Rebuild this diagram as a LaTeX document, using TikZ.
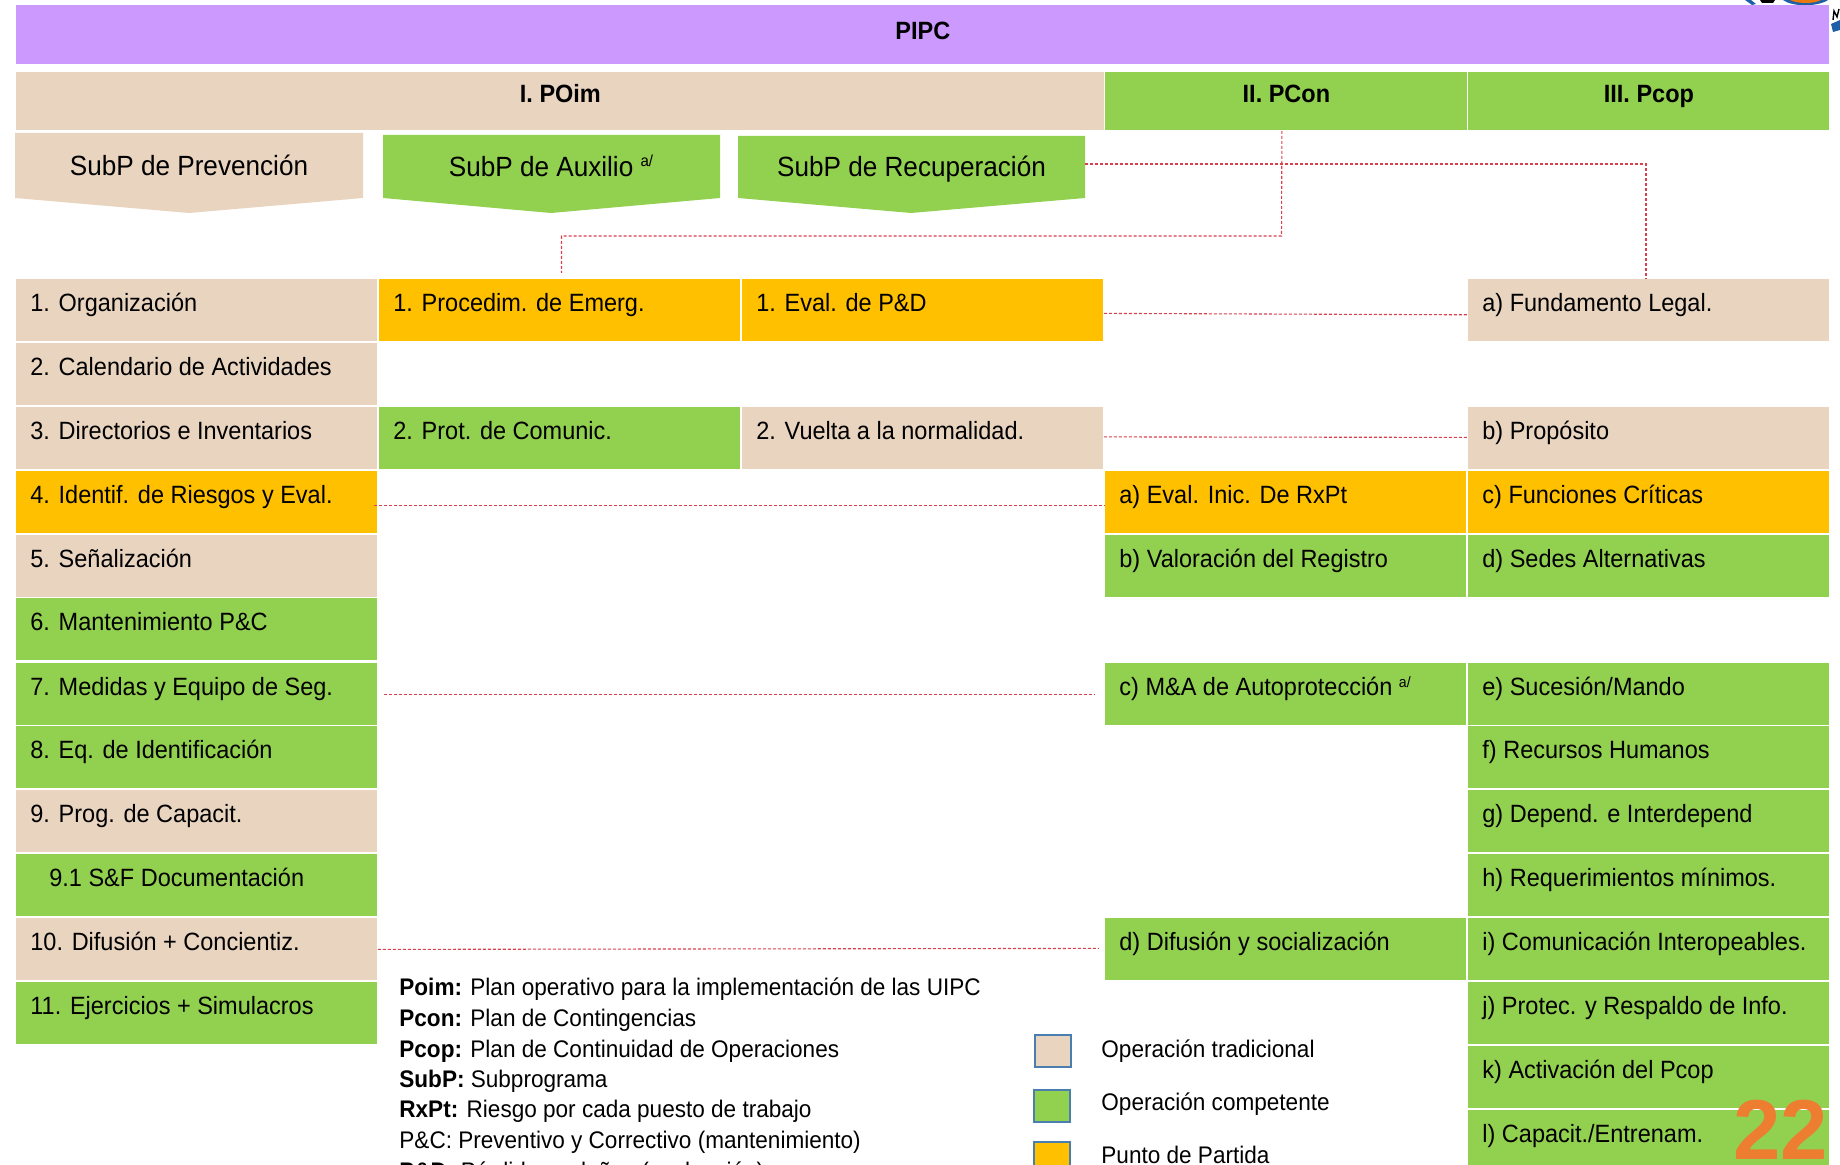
\documentclass[tikz,border=0pt]{standalone}
\usepackage{fontspec}
\setmainfont{Liberation Sans}[FakeStretch=0.94]
\newfontfamily\numfont{Liberation Sans}
\definecolor{tanc}{HTML}{E9D4C0}
\definecolor{greenc}{HTML}{92D050}
\definecolor{yellowc}{HTML}{FFC000}
\definecolor{purplec}{HTML}{CC99FF}
\definecolor{redc}{HTML}{D8404E}
\definecolor{bluec}{HTML}{4A7EAF}
\definecolor{orangec}{HTML}{ED7D31}
\definecolor{logoo}{HTML}{E87A10}
\definecolor{logob}{HTML}{1F5FA8}
\tikzset{
 cell/.style={anchor=north west,inner xsep=7pt,inner ysep=0pt,text height=16.2pt,text depth=14.8pt,font=\fontsize{12.5}{14}\selectfont,
   execute at begin node={\hbox to 166.5pt\bgroup},execute at end node={\hfil\egroup}},
 head/.style={anchor=north west,inner xsep=0pt,inner ysep=0pt,text height=15pt,text depth=14pt,align=center,font=\fontsize{12.5}{15}\selectfont\bfseries},
 pent/.style={inner sep=0pt,font=\fontsize{13.9}{16}\selectfont,text height=10pt,text depth=3pt},
 link/.style={draw=redc,line width=0.55pt,dash pattern=on 1.5pt off 1pt},
 note/.style={anchor=base west,inner sep=0pt,font=\fontsize{12}{13}\selectfont},
 swatch/.style={anchor=north west,draw=bluec,line width=1pt,inner sep=0pt,minimum width=18pt,minimum height=16pt},
}
\begin{document}
\begin{tikzpicture}[x=0.5pt,y=-0.5pt]
\clip (0,0) rectangle (1840,1165);
\fill[white] (0,0) rectangle (1840,1165);
% logo fragment
\fill[logob] (1745,0) -- (1751,0) -- (1756,4) -- (1752,5) -- cycle;
\fill[black] (1760,0) -- (1775,0) -- (1773,3) -- (1762,3) -- cycle;
\fill[logob] (1783,0) .. controls (1792,7) and (1818,7) .. (1828,0) -- cycle;
\fill[logoo] (1790,0) .. controls (1798,4) and (1814,4) .. (1821,0) -- cycle;
\fill[logob] (1831,24) -- (1840,20) -- (1840,30) -- (1833,32) -- cycle;
\draw[black,line width=0.7pt] (1833,20) -- (1834,11) -- (1837,17) -- (1839,9);
% headers
\node[head,fill=purplec,minimum width=906.5pt,text height=17pt,text depth=12.5pt] (pipc) at (16,5) {PIPC};
\node[head,fill=tanc,minimum width=544pt] (poim) at (16,72) {I. POim};
\node[head,fill=greenc,minimum width=181pt] (pcon) at (1105,72) {II. PCon};
\node[head,fill=greenc,minimum width=180.5pt] (pcop) at (1468,72) {III. Pcop};
% subprogram pentagons
\fill[tanc] (15,133) -- (363,133) -- (363,198) -- (189,213) -- (15,198) -- cycle;
\node[pent,minimum width=174pt] (prev) at (189,169) {SubP de Prevención};
\fill[greenc] (383,135) -- (720,135) -- (720,198) -- (551,213) -- (383,198) -- cycle;
\node[pent,minimum width=168.5pt] (aux) at (551,170) {SubP de Auxilio \raisebox{5pt}{\fontsize{8}{9}\selectfont a/}};
\fill[greenc] (738,136) -- (1085,136) -- (1085,198) -- (911,213) -- (738,198) -- cycle;
\node[pent,minimum width=173.5pt] (rec) at (911.5,170) {SubP de Recuperación};
% column 1
\node[cell,fill=tanc] (a1) at (16,279) {1. Organización};
\node[cell,fill=tanc] (a2) at (16,343) {2. Calendario de Actividades};
\node[cell,fill=tanc] (a3) at (16,407) {3. Directorios e Inventarios};
\node[cell,fill=yellowc] (a4) at (16,471) {4. Identif. de Riesgos y Eval.};
\node[cell,fill=tanc] (a5) at (16,535) {5. Señalización};
\node[cell,fill=greenc] (a6) at (16,598) {6. Mantenimiento P\&C};
\node[cell,fill=greenc] (a7) at (16,663) {7. Medidas y Equipo de Seg.};
\node[cell,fill=greenc] (a8) at (16,726) {8. Eq. de Identificación};
\node[cell,fill=tanc] (a9) at (16,790) {9. Prog. de Capacit.};
\node[cell,fill=greenc] (a91) at (16,854) {\hspace*{9.5pt}9.1 S\&F Documentación};
\node[cell,fill=tanc] (a10) at (16,918) {10. Difusión + Concientiz.};
\node[cell,fill=greenc] (a11) at (16,982) {11. Ejercicios + Simulacros};
% column 2
\node[cell,fill=yellowc] (b1) at (379,279) {1. Procedim. de Emerg.};
\node[cell,fill=greenc] (b2) at (379,407) {2. Prot. de Comunic.};
% column 3
\node[cell,fill=yellowc] (c1) at (742,279) {1. Eval. de P\&D};
\node[cell,fill=tanc] (c2) at (742,407) {2. Vuelta a la normalidad.};
% column 4
\node[cell,fill=yellowc] (d1) at (1105,471) {a) Eval. Inic. De RxPt};
\node[cell,fill=greenc] (d2) at (1105,535) {b) Valoración del Registro};
\node[cell,fill=greenc] (d3) at (1105,663) {c) M\&A de Autoprotección \raisebox{4pt}{\fontsize{7.5}{9}\selectfont a/}};
\node[cell,fill=greenc] (d4) at (1105,918) {d) Difusión y socialización};
% column 5
\node[cell,fill=tanc] (e1) at (1468,279) {a) Fundamento Legal.};
\node[cell,fill=tanc] (e2) at (1468,407) {b) Propósito};
\node[cell,fill=yellowc] (e3) at (1468,471) {c) Funciones Críticas};
\node[cell,fill=greenc] (e4) at (1468,535) {d) Sedes Alternativas};
\node[cell,fill=greenc] (e5) at (1468,663) {e) Sucesión/Mando};
\node[cell,fill=greenc] (e6) at (1468,726) {f) Recursos Humanos};
\node[cell,fill=greenc] (e7) at (1468,790) {g) Depend. e Interdepend};
\node[cell,fill=greenc] (e8) at (1468,854) {h) Requerimientos mínimos.};
\node[cell,fill=greenc] (e9) at (1468,918) {i) Comunicación Interopeables.};
\node[cell,fill=greenc] (e10) at (1468,982) {j) Protec. y Respaldo de Info.};
\node[cell,fill=greenc] (e11) at (1468,1046) {k) Activación del Pcop};
\node[cell,fill=greenc] (e12) at (1468,1110) {l) Capacit./Entrenam.};
% connectors
\coordinate (bendA) at (1281.5,236);
\coordinate (bendB) at (561.5,236);
\coordinate (bendC) at (1646,164);
\draw[link] ([xshift=-2.25pt]pcon.south) -- (bendA) -- (bendB) -- ([yshift=3pt]bendB |- b1.north);
\draw[link] (rec.east |- bendC) -- (bendC) -- (bendC |- e1.north);
\draw[link] ([yshift=-1.5pt]c1.east) -- ([yshift=-2.2pt]e1.west);
\draw[link] ([yshift=0.75pt]c2.east) -- ([yshift=0.5pt]e2.west);
\draw[link] ([xshift=-2pt,yshift=-1.5pt]a4.east) -- ([yshift=-1.5pt]d1.west);
\draw[link] ([xshift=3pt]a7.east) -- ([xshift=-5.5pt]d3.west);
\draw[link] (a10.east) -- ([xshift=-3pt,yshift=0.5pt]d4.west);
% notes
\node[note] (n1) at (399,995) {\textbf{Poim:} Plan operativo para la implementación de las UIPC};
\node[note] (n2) at (399,1026) {\textbf{Pcon:} Plan de Contingencias};
\node[note] (n3) at (399,1057) {\textbf{Pcop:} Plan de Continuidad de Operaciones};
\node[note] (n4) at (399,1087) {\textbf{SubP:} Subprograma};
\node[note] (n5) at (399,1117) {\textbf{RxPt:} Riesgo por cada puesto de trabajo};
\node[note] (n6) at (399,1148) {P\&C: Preventivo y Correctivo (mantenimiento)};
\node[note] (n7) at (399,1179) {\textbf{P\&D:} Pérdidas y daños (evaluación)};
% legend
\node[swatch,fill=tanc] (s1) at (1034,1034) {};
\node[swatch,fill=greenc] (s2) at (1033,1089) {};
\node[swatch,fill=yellowc] (s3) at (1033,1141) {};
\node[note] (l1) at (1101,1057) {Operación tradicional};
\node[note] (l2) at (1101,1110) {Operación competente};
\node[note] (l3) at (1101,1163) {Punto de Partida};
% page number
\node[anchor=base east,inner sep=0pt,text=orangec,font=\numfont\fontsize{42.5}{45}\selectfont\bfseries] (num) at (1828,1159) {22};
\end{tikzpicture}
\end{document}
